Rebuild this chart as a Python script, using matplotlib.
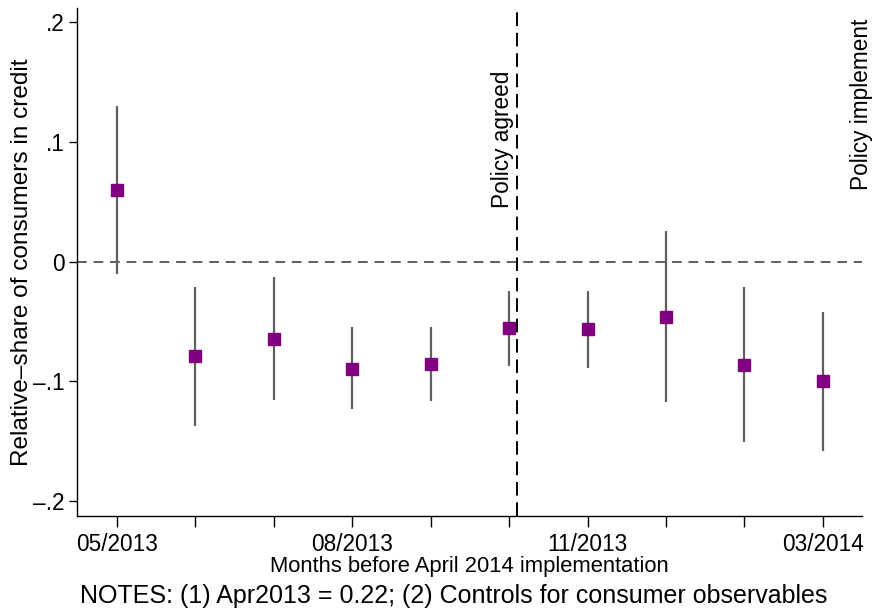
#!/usr/bin/env python3
"""Event-study style coefficient plot: share of consumers in credit."""

import numpy as np
import matplotlib
matplotlib.use('Agg')
import matplotlib.pyplot as plt

plt.rcParams['font.family'] = ['Liberation Sans', 'DejaVu Sans']

PURPLE = '#800080'
GRAY = '#5f5f5f'

# months relative to the policy (April 2013 is the omitted base)
month_idx = np.arange(10)
tick_labels = ['05/2013', '', '', '08/2013', '', '', '11/2013', '', '', '03/2014']
coef = [0.060, -0.0785, -0.0646, -0.0896, -0.0857, -0.0557, -0.0565, -0.0462, -0.0863, -0.0999]
ci_low = [-0.0103, -0.137, -0.116, -0.123, -0.1164, -0.0869, -0.089, -0.117, -0.151, -0.158]
ci_high = [0.130, -0.021, -0.0128, -0.0546, -0.0546, -0.0245, -0.0245, 0.0256, -0.021, -0.042]
y_ticks = [-0.2, -0.1, 0.0, 0.1, 0.2]
y_tick_labels = ['\u2013.2', '\u2013.1', '0', '.1', '.2']
agreed_x = 5.107


def main():
    fig = plt.figure(figsize=(8.72, 6.12), dpi=100)
    ax = fig.add_axes([0.0883, 0.1569, 0.9002, 0.8301])

    ax.axhline(0, color=GRAY, lw=1.4, ls=(0, (5, 3.5)), zorder=1)
    ax.axvline(agreed_x, color='black', lw=1.4, ls=(0, (7, 3.5)), zorder=1)

    ax.vlines(month_idx, ci_low, ci_high, color=GRAY, lw=1.6, zorder=2)
    ax.plot(month_idx, coef, ls='none', marker='s', ms=9, color=PURPLE,
            mec=PURPLE, zorder=3)

    ax.text(agreed_x - 0.19, 0.045, 'Policy agreed', rotation=90,
            ha='center', va='bottom', fontsize=16.3)
    ax.text(9.5, 0.060, 'Policy implement', rotation=90,
            ha='center', va='bottom', fontsize=16.3, clip_on=False)

    ax.set_xlim(-0.51, 9.5)
    ax.set_ylim(-0.2125, 0.212)
    ax.set_xticks(month_idx)
    ax.set_xticklabels(tick_labels, fontsize=16.3)
    ax.set_yticks(y_ticks)
    ax.set_yticklabels(y_tick_labels, fontsize=16.3)
    ax.tick_params(axis='x', length=8, width=1, pad=4)
    ax.tick_params(axis='y', length=6, width=1, pad=3)

    for side in ['top', 'right']:
        ax.spines[side].set_visible(False)
    for side in ['left', 'bottom']:
        ax.spines[side].set_linewidth(1)

    ax.set_ylabel('Relative\u2013share of consumers in credit', fontsize=17.6,
                  labelpad=0)
    ax.set_xlabel('Months before April 2014 implementation', fontsize=15.8,
                  labelpad=0)
    fig.text(0.52, 0.026, 'NOTES: (1) Apr2013 = 0.22; (2) Controls for consumer observables',
             ha='center', va='center', fontsize=18)

    fig.savefig('out.png', dpi=100, facecolor='white')
    plt.close()


if __name__ == '__main__':
    main()
